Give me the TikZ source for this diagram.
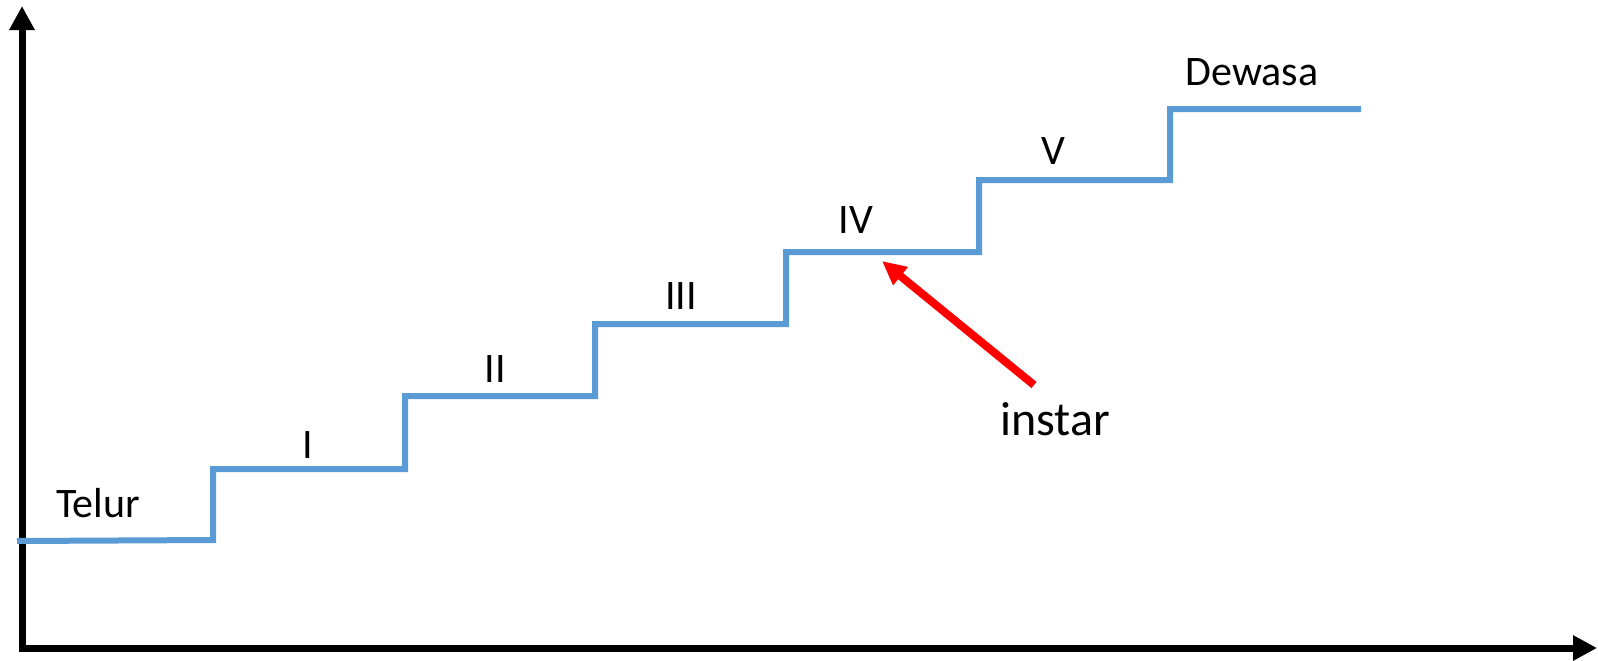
\documentclass[tikz,border=0pt]{standalone}
\usepackage{fontspec}
\setmainfont{Carlito}
\usetikzlibrary{positioning,arrows.meta}
\definecolor{stairblue}{HTML}{5B9BD5}

\begin{document}
\begin{tikzpicture}[x=0.5pt, y=-0.5pt,
		every node/.style={anchor=base, inner sep=0pt, font=\fontsize{21}{25}\selectfont},
		axis/.style={line width=3.5pt, line join=miter, {Triangle[length=12pt,width=12pt]}-{Triangle[length=12pt,width=12pt]}},
		stair/.style={line width=3pt, stairblue, line join=miter},
		pointer/.style={line width=4pt, red, -{Triangle[length=12pt,width=11pt]}}
		]
		\useasboundingbox (0,0) rectangle (1598,660);
		% axes
		\coordinate (ytop) at (22,6);
		\coordinate (o) at (22,648);
		\coordinate (xend) at (1597,648);
		\draw[axis] (ytop) -- (o) -- (xend);
		% stairs
		\coordinate (s0) at (17,541);
		\coordinate (s1) at (213,540);
		\coordinate (s2) at (405,469);
		\coordinate (s3) at (595,396);
		\coordinate (s4) at (786,324);
		\coordinate (s5) at (979,252);
		\coordinate (s6) at (1170,180);
		\coordinate (s7) at (1361,109);
		\draw[stair] (s0) -- (s1) |- (s2) |- (s3) |- (s4) |- (s5) |- (s6) |- (s7);
		% labels
		\node (telur) at (98,517) {Telur};
		\node (l1) at (308,458) {I};
		\node (l2) at (495,382) {II};
		\node (l3) at (681,309) {III};
		\node (l4) at (856,233) {IV};
		\node (l5) at (1053,164) {V};
		\node (dewasa) at (1252,85) {Dewasa};
		\node[font=\fontsize{24}{28}\selectfont] (instar) at (1055,435) {instar};
		% pointer
		\coordinate (tail) at (1034,385);
		\coordinate (head) at (882,261);
		\draw[pointer] (tail) -- (head);
	\end{tikzpicture}
\end{document}
